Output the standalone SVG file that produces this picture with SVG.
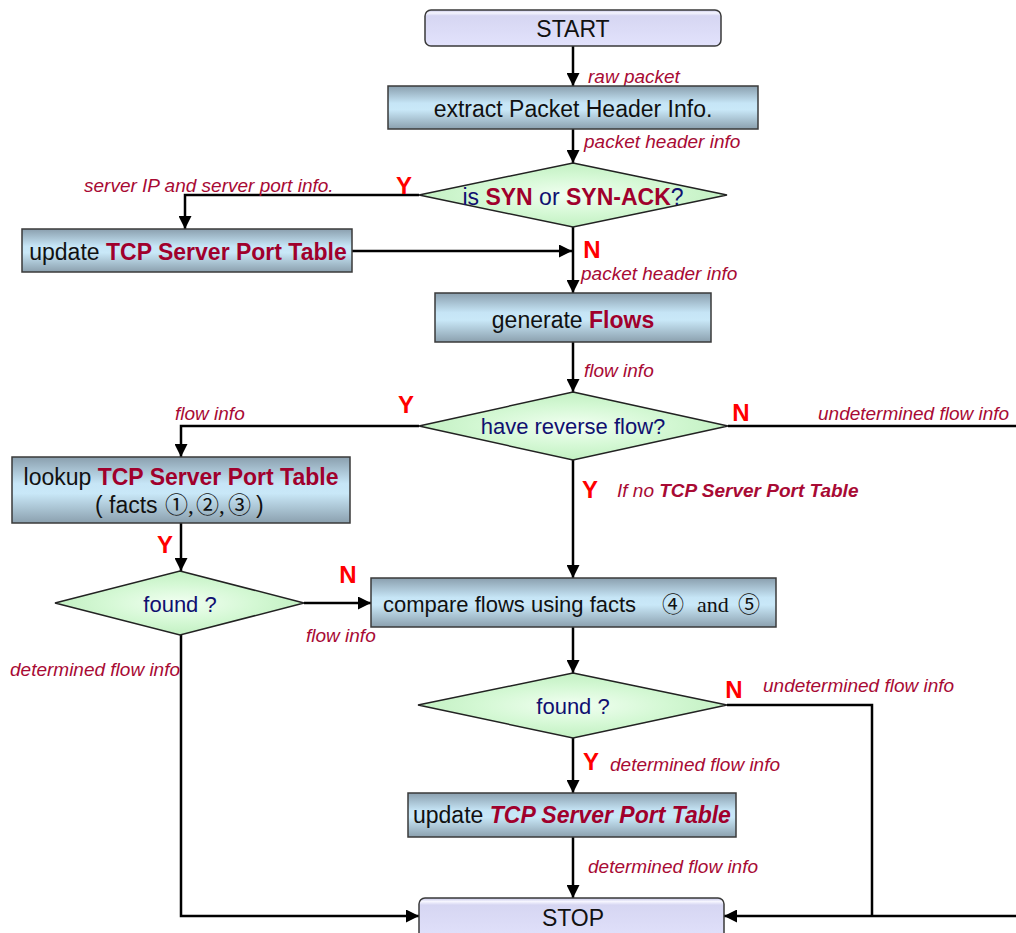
<svg xmlns="http://www.w3.org/2000/svg" width="1016" height="933" viewBox="0 0 1016 933">
  <defs>
    <linearGradient id="gProc" x1="0" y1="0" x2="0" y2="1">
      <stop offset="0" stop-color="#8a9fae"/>
      <stop offset="0.4" stop-color="#c6e5f6"/>
      <stop offset="0.55" stop-color="#c9e8f8"/>
      <stop offset="1" stop-color="#8ba0ae"/>
    </linearGradient>
    <linearGradient id="gTerm" x1="0" y1="0" x2="0" y2="1">
      <stop offset="0" stop-color="#c4c4e6"/>
      <stop offset="0.08" stop-color="#f6f6ff"/>
      <stop offset="0.16" stop-color="#d6d6f2"/>
      <stop offset="1" stop-color="#e2e2fc"/>
    </linearGradient>
    <radialGradient id="gDec" cx="0.5" cy="0.5" r="0.5">
      <stop offset="0" stop-color="#f2fff2"/>
      <stop offset="0.6" stop-color="#d4f8d4"/>
      <stop offset="1" stop-color="#c2f0c2"/>
    </radialGradient>
    <marker id="arr" markerWidth="13" markerHeight="13" refX="13" refY="6.5" orient="auto" markerUnits="userSpaceOnUse">
      <path d="M0,0 L13,6.5 L0,13 z" fill="#000"/>
    </marker>
  </defs>
  <style>
    .proc { fill: url(#gProc); stroke: #3a3a3a; stroke-width: 1.5; }
    .term { fill: url(#gTerm); stroke: #3a3a3a; stroke-width: 1.5; }
    .dec { fill: url(#gDec); stroke: #222; stroke-width: 1.5; }
    .t { font-family: "Liberation Sans", Arial, sans-serif; font-size: 22px; fill: #111; }
    .big { font-size: 23px; }
    .c { text-anchor: middle; }
    .q { fill: #101070; }
    .hl { font-weight: bold; fill: #a0002c; }
    .ser { font-family: "Liberation Serif", "Noto Sans CJK JP", serif; }
    .lbl { font-family: "Liberation Sans", Arial, sans-serif; font-size: 19px; font-style: italic; fill: #a80a34; }
    .lb { font-weight: bold; }
    .yn { font-family: "Liberation Sans", Arial, sans-serif; font-size: 24px; font-weight: bold; fill: #ff0000; text-anchor: middle; }
    .wire { fill: none; stroke: #000; stroke-width: 2.5; }
  </style>

  <!-- connectors -->
  <g id="connectors">
    <path class="wire" d="M573,46 V86" marker-end="url(#arr)"/>
    <path class="wire" d="M573,129 V163" marker-end="url(#arr)"/>
    <path class="wire" d="M419,195 H185 V229" marker-end="url(#arr)"/>
    <path class="wire" d="M352,251 H572" marker-end="url(#arr)"/>
    <path class="wire" d="M573,227 V293" marker-end="url(#arr)"/>
    <path class="wire" d="M573,342 V392" marker-end="url(#arr)"/>
    <path class="wire" d="M419,426 H181 V457" marker-end="url(#arr)"/>
    <path class="wire" d="M728,426 H1016"/>
    <path class="wire" d="M573,460 V578" marker-end="url(#arr)"/>
    <path class="wire" d="M181,523 V571" marker-end="url(#arr)"/>
    <path class="wire" d="M304,603 H371" marker-end="url(#arr)"/>
    <path class="wire" d="M181,635 V916 H419" marker-end="url(#arr)"/>
    <path class="wire" d="M573,627 V673" marker-end="url(#arr)"/>
    <path class="wire" d="M727,705 H872 V916"/>
    <path class="wire" d="M1016,916 H724" marker-end="url(#arr)"/>
    <path class="wire" d="M573,738 V793" marker-end="url(#arr)"/>
    <path class="wire" d="M573,837 V898" marker-end="url(#arr)"/>
  </g>

  <!-- connector labels -->
  <g id="labels">
    <text class="lbl" x="588" y="83">raw packet</text>
    <text class="lbl" x="584" y="148">packet header info</text>
    <text class="lbl" x="84" y="192">server IP and server port info.</text>
    <text class="yn" x="404" y="194">Y</text>
    <text class="yn" x="592" y="258">N</text>
    <text class="lbl" x="581" y="280">packet header info</text>
    <text class="lbl" x="584" y="377">flow info</text>
    <text class="yn" x="406" y="413">Y</text>
    <text class="lbl" x="175" y="420">flow info</text>
    <text class="yn" x="741" y="421">N</text>
    <text class="lbl" x="818" y="420">undetermined flow info</text>
    <text class="yn" x="590" y="498">Y</text>
    <text class="lbl" x="617" y="497">If no <tspan class="lb">TCP Server Port Table</tspan></text>
    <text class="yn" x="165" y="553">Y</text>
    <text class="yn" x="348" y="583">N</text>
    <text class="lbl" x="306" y="642">flow info</text>
    <text class="lbl" x="10" y="676">determined flow info</text>
    <text class="yn" x="734" y="698">N</text>
    <text class="lbl" x="763" y="692">undetermined flow info</text>
    <text class="yn" x="591" y="770">Y</text>
    <text class="lbl" x="610" y="771">determined flow info</text>
    <text class="lbl" x="588" y="873">determined flow info</text>
  </g>

  <g id="start">
    <rect class="term" x="425" y="10" width="296" height="36" rx="6"/>
    <text class="t big c" x="573" y="37">START</text>
  </g>

  <g id="extract">
    <rect class="proc" x="388" y="86" width="370" height="43"/>
    <text class="t big c" x="573" y="117">extract Packet Header Info.</text>
  </g>

  <g id="isSyn">
    <polygon class="dec" points="573,163 727,195 573,227 419,195"/>
    <text class="t big c q" x="573" y="205">is <tspan class="hl">SYN</tspan> or <tspan class="hl">SYN-ACK</tspan>?</text>
  </g>

  <g id="updateTable">
    <rect class="proc" x="22" y="229" width="330" height="43"/>
    <text class="t big c" x="188" y="260">update <tspan class="hl">TCP Server Port Table</tspan></text>
  </g>

  <g id="generateFlows">
    <rect class="proc" x="435" y="293" width="276" height="49"/>
    <text class="t big c" x="573" y="328">generate <tspan class="hl">Flows</tspan></text>
  </g>

  <g id="reverseFlow">
    <polygon class="dec" points="573,392 728,426 573,460 419,426"/>
    <text class="t c q" x="573" y="434">have reverse flow?</text>
  </g>

  <g id="lookupTable">
    <rect class="proc" x="12" y="457" width="338" height="66"/>
    <text class="t big c" x="181" y="485">lookup <tspan class="hl">TCP Server Port Table</tspan></text>
    <text class="t big" y="513"><tspan x="95">( facts</tspan><tspan class="ser" x="165">①</tspan><tspan class="ser" x="188">,</tspan><tspan class="ser" x="196">②</tspan><tspan class="ser" x="219">,</tspan><tspan class="ser" x="228">③</tspan><tspan x="256">)</tspan></text>
  </g>

  <g id="found1">
    <polygon class="dec" points="180,571 304,603 180,635 55,603"/>
    <text class="t c q" x="180" y="612">found ?</text>
  </g>

  <g id="compareFlows">
    <rect class="proc" x="371" y="578" width="405" height="49"/>
    <text class="t" y="612"><tspan x="383">compare flows using facts</tspan><tspan class="ser" x="662">④</tspan><tspan class="ser" x="697">and</tspan><tspan class="ser" x="738">⑤</tspan></text>
  </g>

  <g id="found2">
    <polygon class="dec" points="573,673 727,705 573,738 418,705"/>
    <text class="t c q" x="573" y="714">found ?</text>
  </g>

  <g id="updateTable2">
    <rect class="proc" x="408" y="793" width="328" height="44"/>
    <text class="t big" x="413" y="823">update <tspan class="hl" font-style="italic">TCP Server Port Table</tspan></text>
  </g>

  <g id="stop">
    <rect class="term" x="419" y="898" width="305" height="44" rx="6"/>
    <text class="t big c" x="573" y="926">STOP</text>
  </g>
</svg>
